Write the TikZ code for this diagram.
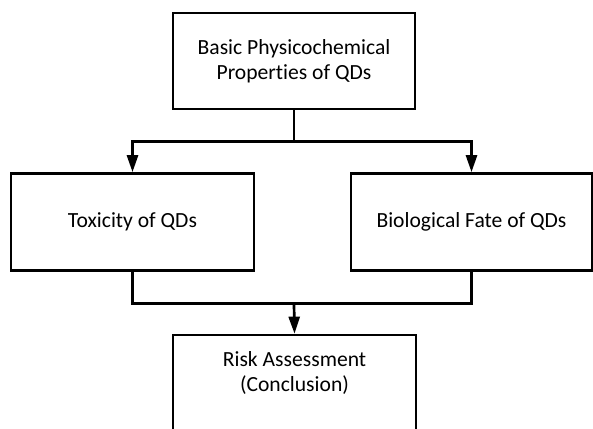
\documentclass[tikz,border=0pt]{standalone}
\usepackage{fontspec}
\setmainfont[Ligatures={NoCommon}]{Carlito}
\usetikzlibrary{arrows.meta}
\begin{document}
\begin{tikzpicture}[x=1pt,y=-1pt,
  txt/.style={align=center,inner sep=0pt,font=\fontsize{21.6}{25.4}\selectfont},
  box/.style={txt,draw=black,line width=2.7pt,rectangle},
  conn/.style={draw=black,line width=2.7pt},
  arr/.style={conn,-{Triangle[length=17pt,width=11pt]}}]
\useasboundingbox (0,0) rectangle (593,428);
\clip (0,0) rectangle (593,428);
\node[box,minimum width=242pt,minimum height=96pt] (top) at (294,61) {Basic Physicochemical\\Properties of QDs};
\node[box,minimum width=243pt,minimum height=97pt] (left) at (132.5,222) {Toxicity of QDs};
\node[box,minimum width=241pt,minimum height=97pt] (right) at (471.5,222) {Biological Fate of QDs};
\node[box,minimum width=243pt,minimum height=110pt] (bottom) at (294.5,390) {};
\node[txt] (bottomtext) at (294.5,373) {Risk Assessment\\(Conclusion)};
\coordinate (j1) at (294,141.7);
\coordinate (j2) at (294,303.3);
\draw[conn] (top.south) -- (j1);
\draw[arr] (j1) -| (left.north);
\draw[arr] (j1) -| (right.north);
\draw[conn] (left.south) |- (j2);
\draw[conn] (right.south) |- (j2);
\draw[arr] (j2) -- (bottom.north);
\end{tikzpicture}
\end{document}
